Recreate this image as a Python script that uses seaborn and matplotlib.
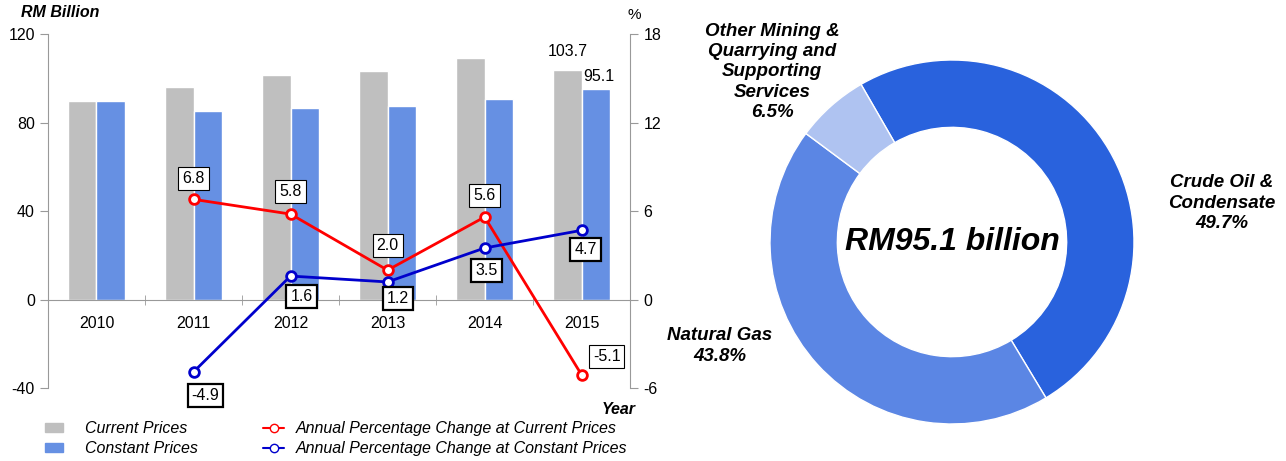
import numpy as np
import pandas as pd
import matplotlib
matplotlib.use("Agg")
import matplotlib.pyplot as plt
import seaborn as sns
from matplotlib.patches import Patch
from matplotlib.lines import Line2D

sns.set_style("white")
plt.rcParams['font.family'] = ['Liberation Sans', 'DejaVu Sans']
plt.rcParams['text.color'] = 'black'
plt.rcParams['xtick.labelcolor'] = 'black'
plt.rcParams['ytick.labelcolor'] = 'black'
plt.rcParams['axes.unicode_minus'] = False

# ---------------- data ----------------
years = ['2010', '2011', '2012', '2013', '2014', '2015']
current_prices = [89.6, 95.9, 101.4, 103.5, 109.3, 103.7]
constant_prices = [89.6, 85.2, 86.5, 87.6, 90.8, 95.1]

change_years = ['2011', '2012', '2013', '2014', '2015']
pct_current = [6.8, 5.8, 2.0, 5.6, -5.1]
pct_constant = [-4.9, 1.6, 1.2, 3.5, 4.7]

segments = ['Crude Oil &\nCondensate', 'Natural Gas',
            'Other Mining &\nQuarrying and\nSupporting\nServices']
shares = [49.7, 43.8, 6.5]
total_label = 'RM95.1 billion'

GRAY = '#BFBFBF'
BLUE = '#6690E3'
RED = '#FF0000'
NAVY = '#0000CC'

bars = pd.DataFrame({
    'Year': years * 2,
    'Value': current_prices + constant_prices,
    'Series': ['Current Prices'] * 6 + ['Constant Prices'] * 6,
})

fig = plt.figure(figsize=(12.86, 4.61), dpi=100)

# ---------------- bar + line chart ----------------
ax = fig.add_axes([0.0373, 0.158, 0.4527, 0.768])
sns.barplot(data=bars, x='Year', y='Value', hue='Series', palette=[GRAY, BLUE],
            width=0.58, ax=ax, legend=False, saturation=1)
ax.set_ylim(-40, 120)
ax.set_xlim(-0.5, 5.5)
ax.set_yticks([-40, 0, 40, 80, 120])
ax.set_xlabel('')
ax.set_ylabel('')
for s in ['top', 'right']:
    ax.spines[s].set_visible(False)
ax.spines['left'].set_color('#999999')
ax.spines['bottom'].set_color('#999999')
ax.spines['bottom'].set_position(('data', 0))
ax.tick_params(axis='y', colors='#999999', labelcolor='black', labelsize=11.5,
               length=6, direction='out', left=True)
ax.tick_params(axis='x', which='major', length=0, labelsize=11.5, pad=12)
ax.set_xticks(np.arange(-0.5, 6, 1), minor=True)
ax.tick_params(axis='x', which='minor', length=7, direction='inout',
               color='#999999', bottom=True)

ax.text(5 - 0.145, 103.7 + 5, '103.7', ha='center', va='bottom', fontsize=11.5)
ax.text(5.02, 95.1 + 2.5, '95.1', ha='left', va='bottom', fontsize=11.5)

ax2 = ax.twinx()
ax2.set_ylim(-6, 18)
ax2.set_yticks([-6, 0, 6, 12, 18])
for s in ['top', 'left', 'bottom']:
    ax2.spines[s].set_visible(False)
ax2.spines['right'].set_color('#999999')
ax2.tick_params(axis='y', colors='#999999', labelcolor='black', labelsize=11.5,
                length=6, direction='out', right=True)

xpos = [years.index(y) for y in change_years]
sns.lineplot(x=xpos, y=pct_current, ax=ax2, color=RED, lw=2, marker='o',
             markersize=7, markerfacecolor='white', markeredgecolor=RED,
             markeredgewidth=2)
sns.lineplot(x=xpos, y=pct_constant, ax=ax2, color=NAVY, lw=2, marker='o',
             markersize=7, markerfacecolor='white', markeredgecolor=NAVY,
             markeredgewidth=2)

red_off = [(0, 21), (0, 23), (0, 25), (0, 22), (25, 18)]
blue_off = [(12, -24), (11, -20), (10, -17), (2, -22), (4, -19)]
for x, v, o in zip(xpos, pct_current, red_off):
    ax2.annotate(f'{v:.1f}', (x, v), xytext=o, textcoords='offset pixels',
                 ha='center', va='center', fontsize=11.5,
                 bbox=dict(boxstyle='square,pad=0.25', fc='white', ec='black', lw=0.8))
for x, v, o in zip(xpos, pct_constant, blue_off):
    ax2.annotate(f'{v:.1f}', (x, v), xytext=o, textcoords='offset pixels',
                 ha='center', va='center', fontsize=11.5,
                 bbox=dict(boxstyle='square,pad=0.25', fc='white', ec='black', lw=1.6))

fig.text(0.016, 0.972, 'RM Billion', fontsize=11.5, fontweight='bold',
         fontstyle='italic', ha='left', va='center')
fig.text(0.493, 0.968, '%', fontsize=11, ha='center', va='center')
fig.text(0.494, 0.112, 'Year', fontsize=11.5, fontweight='bold',
         fontstyle='italic', ha='right', va='center')

bar_handles = [Patch(color=GRAY, label='Current Prices'),
               Patch(color=BLUE, label='Constant Prices')]
line_handles = [Line2D([], [], color=RED, lw=1.5, marker='o', markersize=6,
                       markerfacecolor='white', label='Annual Percentage Change at Current Prices'),
                Line2D([], [], color=NAVY, lw=1.5, marker='o', markersize=6,
                       markerfacecolor='white', label='Annual Percentage Change at Constant Prices')]
fig.legend(handles=bar_handles, loc='upper left', bbox_to_anchor=(0.024, 0.117),
           frameon=False, prop={'style': 'italic', 'size': 11.5},
           handlelength=1.1, handleheight=0.5, labelspacing=0.3, handletextpad=1.4)
fig.legend(handles=line_handles, loc='upper left', bbox_to_anchor=(0.1936, 0.117),
           frameon=False, prop={'style': 'italic', 'size': 11.5},
           handlelength=1.3, labelspacing=0.3, handletextpad=0.75)

# ---------------- donut ----------------
R = 182
ax3 = fig.add_axes([(952 - R) / 1286, (461 - 242 - R) / 461, 2 * R / 1286, 2 * R / 461])
ax3.pie(shares, colors=['#2962DD', '#5B86E4', '#AFC3F1'],
        startangle=120, counterclock=False,
        wedgeprops=dict(width=0.37, edgecolor='white', linewidth=1))
ax3.set_xlim(-1, 1)
ax3.set_ylim(-1, 1)
ax3.set_aspect('equal')
ax3.text(0, 0, total_label, ha='center', va='center', fontsize=23,
         fontweight='bold', fontstyle='italic')

label_pos = [(1222, 203), (720, 346), (772, 72)]
for name, pct, (px, py) in zip(segments, shares, label_pos):
    fig.text(px / 1286, 1 - py / 461, f'{name}\n{pct}%', ha='center', va='center',
             fontsize=13.5, fontweight='bold', fontstyle='italic', linespacing=1.25)

fig.savefig('out.png', dpi=100)
